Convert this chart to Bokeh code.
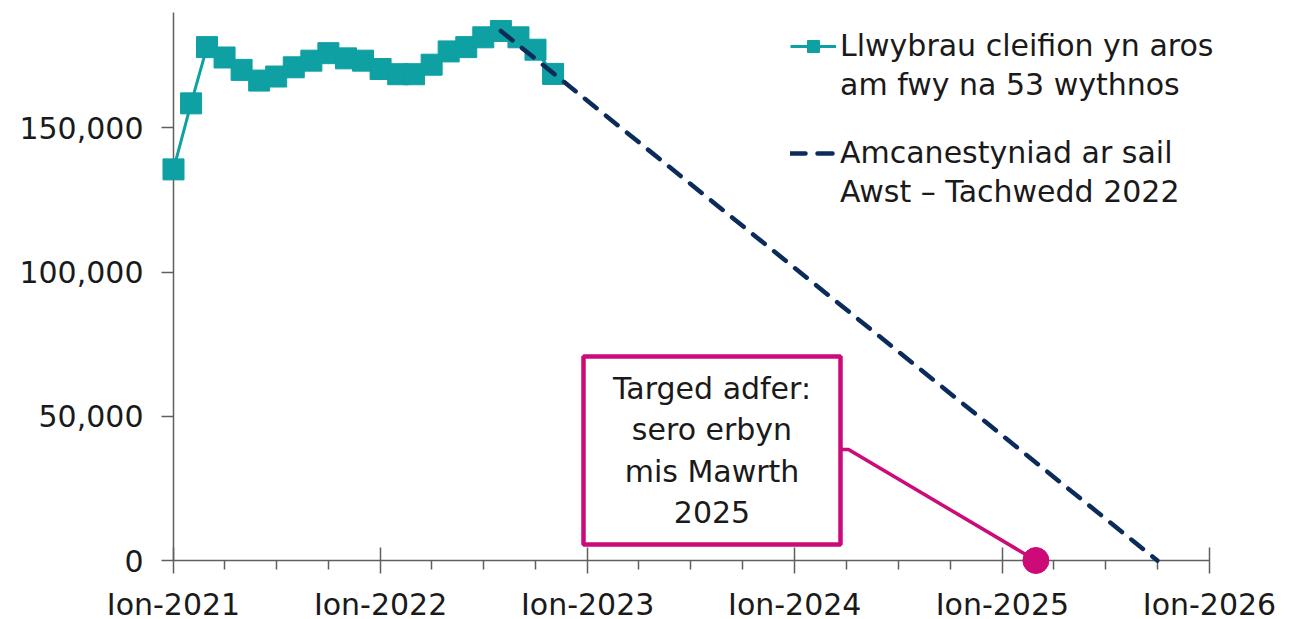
import pandas as pd
from bokeh.plotting import figure
from bokeh.models import (Range1d, FixedTicker, NumeralTickFormatter, Legend,
                          LegendItem, BoxAnnotation, Label)
from bokeh.embed import file_html
from bokeh.resources import INLINE

# ---------------- data ----------------
months = ["2021-01-01", "2021-02-01", "2021-03-01", "2021-04-01", "2021-05-01",
          "2021-06-01", "2021-07-01", "2021-08-01", "2021-09-01", "2021-10-01",
          "2021-11-01", "2021-12-01", "2022-01-01", "2022-02-01", "2022-03-01",
          "2022-04-01", "2022-05-01", "2022-06-01", "2022-07-01", "2022-08-01",
          "2022-09-01", "2022-10-01", "2022-11-01"]
waiting = [135600, 158500, 178000, 174400, 170100, 166400, 167800, 171000,
           173300, 175900, 174100, 173300, 170400, 168600, 168600, 171900,
           176500, 178000, 181400, 183600, 181400, 177100, 168700]
proj_dates = ["2022-08-01", "2025-10-01"]
proj_values = [183600, 0]
target_date = ["2025-03-01"]
target_value = [0]
x_tick_dates = ["2021-01-01", "2022-01-01", "2023-01-01", "2024-01-01",
                "2025-01-01", "2026-01-01"]
x_tick_labels = ["Ion-2021", "Ion-2022", "Ion-2023", "Ion-2024", "Ion-2025", "Ion-2026"]
x_minor_dates = [f"{y}-{m:02d}-01" for y in range(2021, 2026) for m in (4, 7, 10)]
y_ticks = [0, 50000, 100000, 150000]
y_axis_top = 190000
legend_lines_1 = ["Llwybrau cleifion yn aros", "am fwy na 53 wythnos"]
legend_lines_2 = ["Amcanestyniad ar sail", "Awst – Tachwedd 2022"]
callout_text = "Targed adfer:\nsero erbyn\nmis Mawrth\n2025"

# ---------------- styling / layout ----------------
TEAL = "#0ea0a3"
NAVY = "#0b2c5a"
MAGENTA = "#cc0a78"
TEXT = "#1a1a1a"
AXIS = "#5f5f5f"
FONT = "DejaVu Sans"
FS = "30px"

W, H = 1296, 619


def ms(s):
    return pd.Timestamp(s).value / 1e6


t0, t1 = ms(x_tick_dates[0]), ms(x_tick_dates[-1])
X0_PX, X1_PX = 173, 1209      # screen position of first / last year tick
Y0_PX, YT_PX = 560, 12        # screen position of 0 and of the axis top
mspp = (t1 - t0) / (X1_PX - X0_PX)
x_start = t0 - X0_PX * mspp
x_end = t0 + (W - X0_PX) * mspp
vpp = y_axis_top / (Y0_PX - YT_PX)
y_start = -(H - Y0_PX) * vpp
y_end = y_axis_top + YT_PX * vpp


def px_x(px):
    return x_start + px * mspp


def px_y(py):
    return y_end - py * vpp


p = figure(width=W, height=H, x_axis_type="datetime",
           x_range=Range1d(x_start, x_end), y_range=Range1d(y_start, y_end),
           output_backend="svg", toolbar_location=None, title=None,
           min_border=0, outline_line_color=None)
p.grid.visible = False

xdates = pd.to_datetime(months)
l1 = p.line(xdates, waiting, line_color=TEAL, line_width=3)
s1 = p.scatter(xdates, waiting, marker="square", size=21, fill_color=TEAL,
               line_color=TEAL, level="overlay")
proj = p.line(pd.to_datetime(proj_dates), proj_values, line_color=NAVY, line_width=4.5,
              line_dash="15 12", line_cap="round", level="overlay")
blank = p.line(x=[], y=[], line_alpha=0)

# callout connector + target point
bx_l, bx_r, by_t, by_b = 583, 840, 356, 544
tx = ms(target_date[0])
p.line([px_x(bx_r), px_x(bx_r + 8), tx], [px_y(449), px_y(449), target_value[0]],
       line_color=MAGENTA, line_width=3.5)
p.scatter(pd.to_datetime(target_date), target_value, marker="circle", size=26,
          fill_color=MAGENTA, line_color=MAGENTA, level="overlay")

box = BoxAnnotation(left=px_x(bx_l), right=px_x(bx_r), top=px_y(by_t), bottom=px_y(by_b),
                    fill_color="white", fill_alpha=1, line_color=MAGENTA,
                    line_alpha=1, line_width=4.5)
p.add_layout(box)
p.add_layout(Label(x=px_x((bx_l + bx_r) / 2), y=px_y(450), text=callout_text,
                   text_align="center", text_baseline="middle", text_font=FONT,
                   text_font_size=FS, text_color=TEXT, text_line_height=1.18))

# axes
for ax in (p.xaxis[0], p.yaxis[0]):
    ax.axis_line_color = AXIS
    ax.axis_line_width = 1.5
    ax.major_tick_line_color = AXIS
    ax.major_tick_line_width = 1.5
    ax.minor_tick_line_color = AXIS
    ax.minor_tick_line_width = 1.5
    ax.major_label_text_font = FONT
    ax.major_label_text_font_size = FS
    ax.major_label_text_color = TEXT

xa = p.xaxis[0]
xa.fixed_location = 0
xa.bounds = (t0, t1)
xa.ticker = FixedTicker(ticks=[ms(d) for d in x_tick_dates],
                        minor_ticks=[ms(d) for d in x_minor_dates])
xa.major_label_overrides = {ms(d): lab for d, lab in zip(x_tick_dates, x_tick_labels)}
xa.major_tick_in = 13
xa.major_tick_out = 13
xa.minor_tick_in = 0
xa.minor_tick_out = 9
xa.major_label_standoff = 13

ya = p.yaxis[0]
ya.fixed_location = t0
ya.bounds = (0, y_axis_top)
ya.ticker = FixedTicker(ticks=y_ticks, minor_ticks=[])
ya.formatter = NumeralTickFormatter(format="0,0")
ya.major_tick_in = 0
ya.major_tick_out = 12
ya.minor_tick_out = 0
ya.major_label_standoff = 18

legend_style = dict(padding=0, spacing=4, margin=0, glyph_width=46, glyph_height=30,
                    label_standoff=4, border_line_color=None, background_fill_alpha=0,
                    label_text_font=FONT, label_text_font_size=FS,
                    label_text_color=TEXT)
leg1 = Legend(items=[LegendItem(label=legend_lines_1[0], renderers=[l1, s1]),
                     LegendItem(label=legend_lines_1[1], renderers=[blank])],
              location=(790, H - 102), **legend_style)
leg2 = Legend(items=[LegendItem(label=legend_lines_2[0], renderers=[proj]),
                     LegendItem(label=legend_lines_2[1], renderers=[blank])],
              location=(790, H - 209), **legend_style)
p.add_layout(leg1)
p.add_layout(leg2)

open("out.html", "w").write(file_html(p, INLINE))
